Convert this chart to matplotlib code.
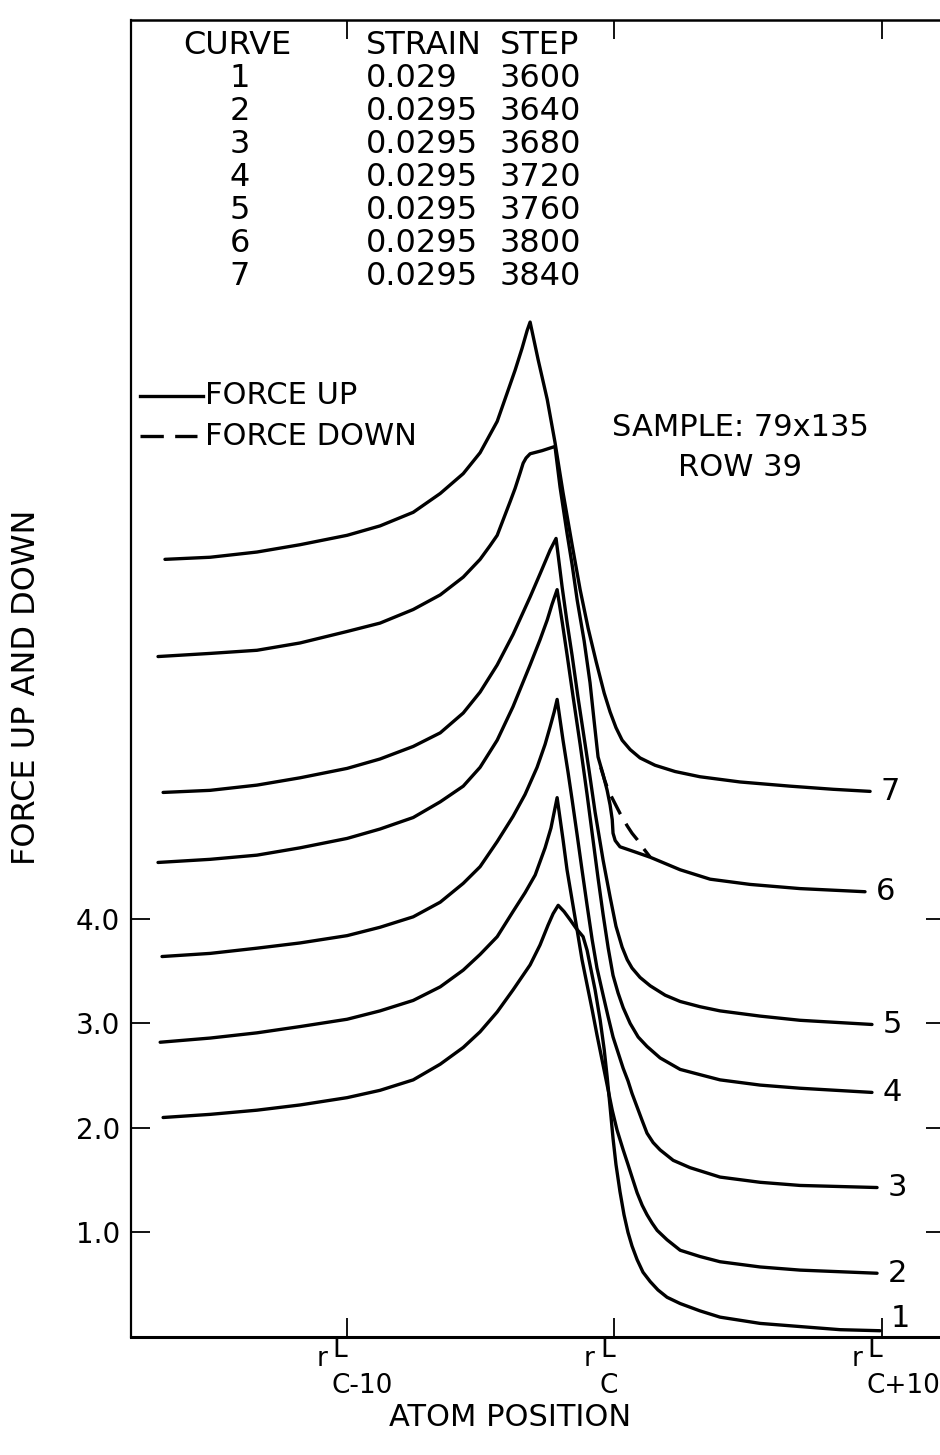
import matplotlib
matplotlib.use("Agg")
import matplotlib.pyplot as plt
from matplotlib.lines import Line2D

plt.rcParams['font.family'] = ['DejaVu Sans']

# ---- run table ----
curve_ids = ["1", "2", "3", "4", "5", "6", "7"]
strains = ["0.029", "0.0295", "0.0295", "0.0295", "0.0295", "0.0295", "0.0295"]
steps = ["3600", "3640", "3680", "3720", "3760", "3800", "3840"]

# ---- force profiles along the row (atom position relative to r_C^L, force) ----
x1 = [-16.86, -15.10, -13.35, -11.74, -9.98, -8.75, -7.51, -6.50, -5.64, -5.01, -4.37, -3.78,
      -3.14, -2.77, -2.47, -2.28, -2.09, -1.87, -1.64, -1.42, -1.16, -1.01, -0.90, -0.71,
      -0.52, -0.37, -0.26, -0.15, -0.04, 0.07, 0.22, 0.37, 0.52, 0.67, 0.86, 1.08,
      1.35, 1.64, 1.98, 2.47, 3.21, 3.96, 5.46, 6.95, 8.45, 9.94]
y1 = [2.10, 2.13, 2.17, 2.22, 2.29, 2.36, 2.46, 2.61, 2.77, 2.92, 3.11, 3.32,
      3.56, 3.75, 3.94, 4.05, 4.13, 4.07, 3.99, 3.91, 3.83, 3.70, 3.56, 3.32,
      3.03, 2.75, 2.49, 2.20, 1.90, 1.65, 1.39, 1.17, 1.00, 0.87, 0.74, 0.62,
      0.53, 0.45, 0.38, 0.32, 0.25, 0.19, 0.13, 0.10, 0.07, 0.06]

x2 = [-16.97, -15.10, -13.35, -11.74, -9.98, -8.75, -7.51, -6.50, -5.64, -5.01, -4.37, -3.78,
      -3.33, -2.95, -2.58, -2.36, -2.13, -1.91, -1.76, -1.57, -1.38, -1.20, -1.01, -0.82,
      -0.64, -0.45, -0.26, -0.07, 0.11, 0.34, 0.52, 0.67, 0.86, 1.05, 1.23, 1.42,
      1.61, 1.98, 2.47, 3.21, 3.96, 5.46, 6.95, 9.83]
y2 = [2.82, 2.86, 2.91, 2.97, 3.04, 3.12, 3.22, 3.35, 3.51, 3.66, 3.83, 4.07,
      4.25, 4.42, 4.68, 4.87, 5.16, 4.76, 4.47, 4.18, 3.89, 3.61, 3.37, 3.13,
      2.89, 2.65, 2.41, 2.17, 1.98, 1.79, 1.65, 1.53, 1.38, 1.26, 1.17, 1.09,
      1.02, 0.93, 0.83, 0.77, 0.72, 0.67, 0.64, 0.61]

x3 = [-16.90, -15.10, -13.35, -11.74, -9.98, -8.75, -7.51, -6.50, -5.64, -5.01, -4.37, -3.78,
      -3.33, -2.88, -2.58, -2.39, -2.24, -2.13, -1.91, -1.72, -1.57, -1.38, -1.20, -1.01,
      -0.82, -0.64, -0.41, -0.22, -0.04, 0.15, 0.34, 0.52, 0.67, 0.86, 1.05, 1.23,
      1.46, 1.72, 2.21, 2.84, 3.96, 5.46, 6.95, 9.83]
y3 = [3.64, 3.67, 3.72, 3.77, 3.84, 3.92, 4.02, 4.16, 4.34, 4.50, 4.74, 4.98,
      5.19, 5.45, 5.67, 5.84, 5.98, 6.10, 5.71, 5.40, 5.14, 4.80, 4.47, 4.13,
      3.80, 3.53, 3.27, 3.06, 2.87, 2.72, 2.57, 2.45, 2.33, 2.20, 2.07, 1.95,
      1.86, 1.79, 1.69, 1.62, 1.53, 1.48, 1.45, 1.43]

x4 = [-17.05, -15.10, -13.35, -11.74, -9.98, -8.75, -7.51, -6.50, -5.64, -5.01, -4.37, -3.78,
      -3.14, -2.77, -2.50, -2.32, -2.13, -1.94, -1.76, -1.53, -1.27, -1.01, -0.79, -0.60,
      -0.41, -0.22, -0.04, 0.15, 0.34, 0.60, 0.90, 1.23, 1.72, 2.47, 3.21, 3.96,
      5.46, 6.95, 9.64]
y4 = [4.54, 4.57, 4.61, 4.68, 4.77, 4.86, 4.97, 5.12, 5.27, 5.45, 5.71, 6.03,
      6.43, 6.67, 6.86, 7.01, 7.15, 6.84, 6.53, 6.12, 5.67, 5.19, 4.76, 4.39,
      4.04, 3.72, 3.46, 3.29, 3.15, 3.00, 2.87, 2.78, 2.67, 2.56, 2.51, 2.46,
      2.41, 2.38, 2.34]

x5 = [-16.86, -15.10, -13.35, -11.74, -9.98, -8.75, -7.51, -6.50, -5.64, -5.01, -4.37, -3.78,
      -3.14, -2.77, -2.39, -2.17, -1.94, -1.76, -1.57, -1.35, -1.16, -0.93, -0.71, -0.41,
      -0.15, 0.07, 0.30, 0.49, 0.67, 0.97, 1.35, 1.91, 2.47, 3.21, 3.96, 5.46,
      6.95, 9.64]
y5 = [5.21, 5.23, 5.28, 5.35, 5.44, 5.53, 5.65, 5.78, 5.97, 6.17, 6.43, 6.72,
      7.08, 7.30, 7.53, 7.64, 7.17, 6.84, 6.52, 6.12, 5.80, 5.41, 5.02, 4.56,
      4.21, 3.93, 3.73, 3.61, 3.53, 3.44, 3.36, 3.27, 3.21, 3.16, 3.12, 3.07,
      3.03, 2.99]

x6 = [-17.05, -15.10, -13.35, -11.74, -9.98, -8.75, -7.51, -6.50, -5.64, -5.01, -4.64, -4.37,
      -4.07, -3.89, -3.70, -3.51, -3.40, -3.29, -3.14, -2.69, -2.21, -2.02, -1.76, -1.57,
      -1.38, -1.12, -0.90, -0.75, -0.60, -0.41, -0.26, -0.15, -0.07, -0.04, 0.04, 0.22,
      0.79, 1.35, 1.91, 2.47, 3.59, 5.08, 6.95, 9.38]
y6 = [6.51, 6.54, 6.57, 6.64, 6.75, 6.83, 6.96, 7.10, 7.27, 7.44, 7.57, 7.67,
      7.87, 7.99, 8.12, 8.27, 8.36, 8.41, 8.45, 8.48, 8.52, 8.13, 7.69, 7.39,
      7.05, 6.66, 6.26, 5.90, 5.55, 5.38, 5.23, 5.09, 4.95, 4.82, 4.75, 4.69,
      4.64, 4.59, 4.53, 4.47, 4.38, 4.33, 4.29, 4.26]

# curve 6, force down where it departs from force up
x6_down = [-0.50, -0.37, -0.22, -0.04, 0.22, 0.49, 0.67, 0.86, 1.08, 1.35]
y6_down = [5.45, 5.34, 5.23, 5.14, 5.01, 4.89, 4.82, 4.76, 4.68, 4.59]

x7 = [-16.79, -15.10, -13.35, -11.74, -9.98, -8.75, -7.51, -6.50, -5.64, -5.01, -4.37, -4.00,
      -3.70, -3.44, -3.25, -3.14, -2.84, -2.50, -2.21, -1.91, -1.57, -1.27, -0.97, -0.67,
      -0.37, -0.15, 0.07, 0.30, 0.60, 0.97, 1.53, 2.28, 3.21, 4.71, 6.58, 8.19,
      9.57]
y7 = [7.44, 7.46, 7.51, 7.58, 7.67, 7.76, 7.89, 8.07, 8.26, 8.46, 8.76, 9.03,
      9.25, 9.46, 9.63, 9.71, 9.35, 8.97, 8.56, 8.08, 7.58, 7.15, 6.78, 6.46,
      6.16, 5.98, 5.83, 5.71, 5.62, 5.54, 5.47, 5.41, 5.36, 5.31, 5.27, 5.24,
      5.22]

xs = [x1, x2, x3, x4, x5, x6, x7]
ys = [y1, y2, y3, y4, y5, y6, y7]

y_ticks = [1.0, 2.0, 3.0, 4.0]
y_tick_labels = ["1.0", "2.0", "3.0", "4.0"]
x_ticks = [-10, 0, 10]
x_tick_subs = ["C-10", "C", "C+10"]

# ---- figure ----
W, H = 940, 1455
fig = plt.figure(figsize=(W / 100, H / 100), dpi=100)


def fx(px):
    return px / W


def fy(py):
    return 1 - py / H


ax = fig.add_axes([fx(131), fy(1337), fx(945) - fx(131), fy(20) - fy(1337)])
ax.set_xlim(-18.06, 12.37)
ax.set_ylim(0, 12.60)

LW = 2.4
DASH = (6, 3.3)
for x, y in zip(xs, ys):
    ax.plot(x, y, color="black", lw=LW, solid_joinstyle="round", solid_capstyle="round")
ax.plot(x6_down, y6_down, color="black", lw=LW, dashes=DASH)

# curve numbers at the right-hand ends
for cid, x, y in zip(curve_ids, xs, ys):
    ax.text(x[-1] + 0.75, max(y[-1], 0.18), cid, ha="center", va="center", fontsize=22)

# axes frame and ticks
for side, lw in (("left", 1.6), ("bottom", 2.2), ("top", 1.8), ("right", 1.6)):
    ax.spines[side].set_linewidth(lw)
ax.set_yticks(y_ticks)
ax.set_yticklabels(y_tick_labels)
ax.set_xticks(x_ticks)
ax.set_xticklabels([""] * len(x_ticks))
ax.tick_params(direction="in", length=14, width=1.3, top=True, right=True,
               labelsize=20, pad=8)

# position tick labels r^L_C...
for v, sub in zip(x_ticks, x_tick_subs):
    kw = dict(xy=(v, 0), xycoords=("data", "axes fraction"), textcoords="offset pixels",
              fontsize=19, va="center")
    ax.annotate("r", xytext=(-25, -22), ha="center", **kw)
    ax.annotate("L", xytext=(-14, -13), ha="left", **kw)
    ax.annotate(sub, xytext=(-15, -49), ha="left", **kw)

fig.text(fx(510), fy(1418), "ATOM POSITION", ha="center", va="center", fontsize=22)
fig.text(fx(27), fy(687), "FORCE UP AND DOWN", rotation=90, ha="center", va="center",
         fontsize=23)

# run table
row_y = [45 + 33.1 * i for i in range(8)]
fig.text(fx(237), fy(row_y[0]), "CURVE", ha="center", va="center", fontsize=23)
fig.text(fx(366), fy(row_y[0]), "STRAIN", ha="left", va="center", fontsize=23)
fig.text(fx(500), fy(row_y[0]), "STEP", ha="left", va="center", fontsize=23)
for i, (c, s, st) in enumerate(zip(curve_ids, strains, steps)):
    yy = fy(row_y[i + 1])
    fig.text(fx(240), yy, c, ha="center", va="center", fontsize=23)
    fig.text(fx(366), yy, s, ha="left", va="center", fontsize=23)
    fig.text(fx(500), yy, st, ha="left", va="center", fontsize=23)

# line-style key
fig.add_artist(Line2D([fx(140), fx(203)], [fy(396)] * 2, color="black", lw=LW))
fig.add_artist(Line2D([fx(140), fx(197)], [fy(436)] * 2, color="black", lw=LW,
                      dashes=(7.0, 3.4)))
fig.text(fx(205), fy(396), "FORCE UP", ha="left", va="center", fontsize=22)
fig.text(fx(205), fy(436), "FORCE DOWN", ha="left", va="center", fontsize=22)

fig.text(fx(740), fy(428), "SAMPLE: 79x135", ha="center", va="center", fontsize=22)
fig.text(fx(740), fy(468), "ROW 39", ha="center", va="center", fontsize=22)

fig.savefig("out.png", dpi=100)
